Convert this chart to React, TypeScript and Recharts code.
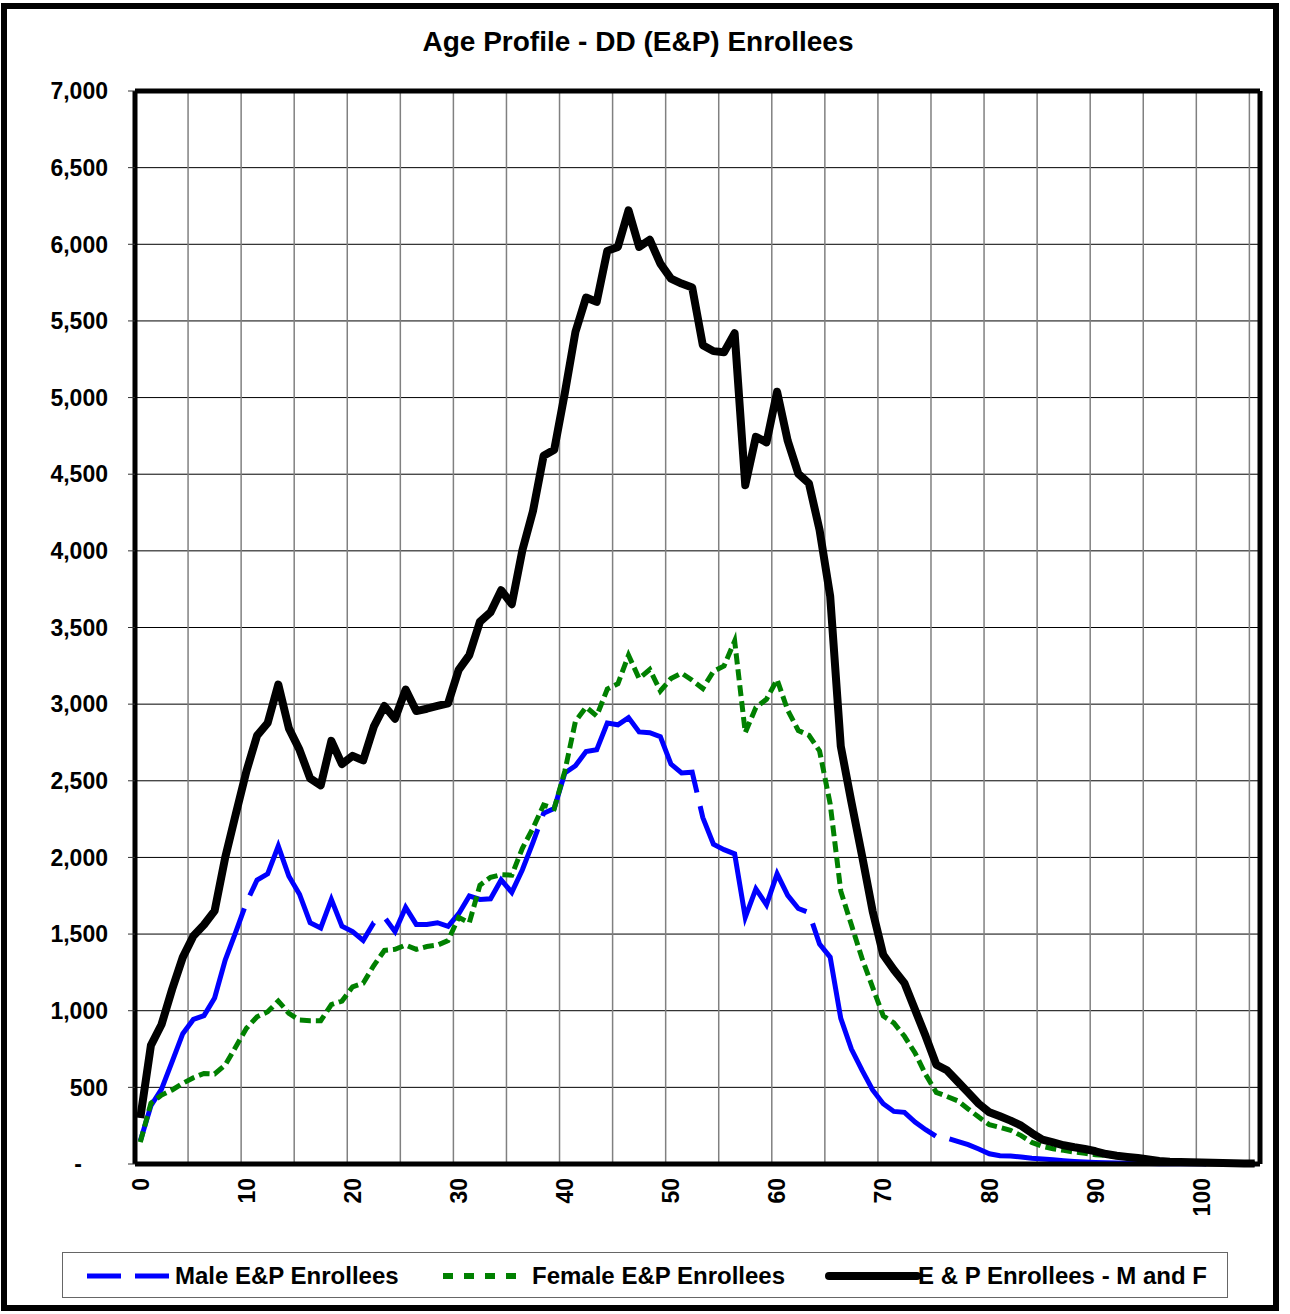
import React from "react";
import { CartesianGrid, Line, LineChart, ReferenceLine, XAxis, YAxis } from "recharts";

const FONT = '"Liberation Sans", Arial, sans-serif';

// enrollees by single year of age, 0..105
const male = [
  150, 380, 488, 668, 850, 943, 968, 1083, 1330, 1515,
  1705, 1853, 1893, 2074, 1877, 1760, 1574, 1540, 1726, 1551,
  1516, 1458, 1574, 1609, 1516, 1674, 1563, 1563, 1574, 1551,
  1633, 1749, 1726, 1730, 1853, 1772, 1920, 2098, 2288, 2319,
  2551, 2598, 2691, 2702, 2877, 2865, 2912, 2819, 2814, 2788,
  2609, 2551, 2556, 2260, 2086, 2051, 2023, 1609, 1795, 1691,
  1893, 1753, 1667, 1640, 1435, 1350, 950, 750, 612, 483,
  393, 343, 337, 274, 224, 180, 170, 148, 126, 98,
  67, 54, 52, 46, 37, 33, 28, 22, 17, 13,
  10, 8, 6, 5, 4, 3, 2, 2, 1, 1,
  1, 0, 0, 0, 0, 0,
];

const female = [
  143, 396, 450, 483, 526, 563, 591, 587, 646, 765,
  885, 961, 993, 1063, 983, 939, 935, 935, 1040, 1063,
  1156, 1179, 1295, 1393, 1400, 1428, 1400, 1419, 1428, 1458,
  1609, 1574, 1819, 1870, 1888, 1884, 2060, 2191, 2342, 2319,
  2563, 2888, 2981, 2923, 3098, 3133, 3319, 3167, 3226, 3086,
  3167, 3202, 3156, 3102, 3214, 3249, 3412, 2815, 2978, 3032,
  3160, 2960, 2828, 2797, 2695, 2350, 1780, 1560, 1342, 1152,
  966, 920, 833, 724, 583, 467, 441, 413, 359, 306,
  256, 239, 220, 185, 141, 115, 100, 89, 78, 70,
  61, 57, 48, 41, 35, 27, 18, 13, 11, 10,
  9, 6, 5, 4, 3, 3,
];

const total = [
  300, 774, 910, 1140, 1348, 1488, 1561, 1651, 2000, 2284,
  2563, 2795, 2877, 3128, 2842, 2702, 2516, 2470, 2760, 2609,
  2663, 2633, 2853, 2988, 2905, 3095, 2955, 2970, 2988, 3005,
  3224, 3320, 3538, 3600, 3743, 3652, 4004, 4260, 4620, 4660,
  5030, 5429, 5653, 5624, 5957, 5983, 6221, 5983, 6030, 5874,
  5776, 5744, 5718, 5342, 5303, 5296, 5420, 4428, 4744, 4708,
  5038, 4718, 4503, 4440, 4137, 3705, 2725, 2362, 2012, 1650,
  1365, 1267, 1180, 1006, 833, 648, 611, 539, 467, 393,
  337, 311, 283, 250, 202, 159, 141, 122, 109, 98,
  83, 65, 54, 46, 39, 30, 20, 15, 13, 11,
  10, 8, 6, 5, 4, 3,
];

const xTicks = [0, 10, 20, 30, 40, 50, 60, 70, 80, 90, 100];
const yTicks = [0, 500, 1000, 1500, 2000, 2500, 3000, 3500, 4000, 4500, 5000, 5500, 6000, 6500, 7000];
// vertical grid sits between categories, every 5 ages
const xGrid = [4.5, 9.5, 14.5, 19.5, 24.5, 29.5, 34.5, 39.5, 44.5, 49.5, 54.5, 59.5, 64.5, 69.5, 74.5, 79.5, 84.5, 89.5, 94.5, 99.5, 104.5];

const data = male.map((m, age) => ({ age, male: m, female: female[age], total: total[age] }));

function XTick({ x, y, payload }: any) {
  return (
    <text
      x={x}
      y={y}
      transform={`rotate(-90 ${x} ${y})`}
      textAnchor="end"
      dy="0.36em"
      fontSize={23}
      fontWeight="bold"
      fontFamily={FONT}
      fill="#000"
    >
      {payload.value}
    </text>
  );
}

function YTick({ x, y, payload }: any) {
  const v = payload.value as number;
  return (
    <text
      x={v === 0 ? x - 26 : x}
      y={y}
      textAnchor="end"
      dy="0.36em"
      fontSize={23}
      fontWeight="bold"
      fontFamily={FONT}
      fill="#000"
    >
      {v === 0 ? "-" : v.toLocaleString("en-US")}
    </text>
  );
}

const legendText: React.CSSProperties = {
  position: "absolute",
  top: 9,
  fontSize: 24,
  fontWeight: "bold",
  fontFamily: FONT,
  lineHeight: "27px",
  whiteSpace: "nowrap",
};

function ChartLegend() {
  return (
    <div
      style={{
        position: "absolute",
        left: 62,
        top: 1252,
        width: 1166,
        height: 46,
        border: "1px solid #666",
        boxSizing: "border-box",
        background: "#fff",
      }}
    >
      <svg style={{ position: "absolute", left: 0, top: 0 }} width={1166} height={46}>
        <line x1={24} x2={112} y1={23} y2={23} stroke="#0000ff" strokeWidth={5} strokeDasharray="34 14" />
        <line x1={380} x2={455} y1={23} y2={23} stroke="#008000" strokeWidth={6} strokeDasharray="10 11" />
        <line x1={766} x2={854} y1={23} y2={23} stroke="#000" strokeWidth={8} strokeLinecap="round" />
      </svg>
      <span style={{ ...legendText, left: 112 }}>Male E&amp;P Enrollees</span>
      <span style={{ ...legendText, left: 469 }}>Female E&amp;P Enrollees</span>
      <span style={{ ...legendText, left: 855 }}>E &amp; P Enrollees - M and F</span>
    </div>
  );
}

export default function App() {
  return (
    <div style={{ position: "absolute", left: 0, top: 0, width: 1290, height: 1314, background: "#fff" }}>
      <div
        style={{
          position: "absolute",
          left: 1,
          top: 3,
          width: 1278,
          height: 1308,
          border: "6px solid #000",
          boxSizing: "border-box",
        }}
      />
      <div
        style={{
          position: "absolute",
          left: 0,
          top: 26,
          width: 1276,
          textAlign: "center",
          fontSize: 28,
          fontWeight: "bold",
          fontFamily: FONT,
        }}
      >
        Age Profile - DD (E&amp;P) Enrollees
      </div>
      <LineChart
        width={1290}
        height={1314}
        data={data}
        margin={{ top: 91, right: 30, bottom: 0, left: 0 }}
        style={{ position: "absolute", left: 0, top: 0 }}
      >
        <CartesianGrid vertical={false} stroke="#000" strokeWidth={1} />
        {xGrid.map(g => (
          <ReferenceLine key={g} x={g} stroke="#808080" strokeWidth={1.5} zIndex={-50} />
        ))}
        <XAxis
          dataKey="age"
          type="number"
          domain={[-0.5, 105.5]}
          ticks={xTicks}
          interval={0}
          height={150}
          tickSize={0}
          tickMargin={14}
          tick={<XTick />}
          axisLine={{ stroke: "#000", strokeWidth: 5 }}
        />
        <YAxis
          domain={[0, 7000]}
          ticks={yTicks}
          interval={0}
          width={135}
          tickSize={7}
          tickMargin={20}
          tick={<YTick />}
          tickLine={{ stroke: "#333" }}
          axisLine={{ stroke: "#000", strokeWidth: 5 }}
        />
        <ReferenceLine y={7000} stroke="#000" strokeWidth={5} />
        <ReferenceLine x={105.5} stroke="#000" strokeWidth={5} />
        <Line
          dataKey="male"
          name="Male E&P Enrollees"
          stroke="#0000ff"
          strokeWidth={5}
          strokeDasharray="260 14"
          dot={false}
          isAnimationActive={false}
        />
        <Line
          dataKey="female"
          name="Female E&P Enrollees"
          stroke="#008000"
          strokeWidth={5}
          strokeDasharray="11 5"
          dot={false}
          isAnimationActive={false}
        />
        <Line
          dataKey="total"
          name="E & P Enrollees - M and F"
          stroke="#000"
          strokeWidth={8}
          strokeLinejoin="round"
          dot={false}
          isAnimationActive={false}
        />
      </LineChart>
      <ChartLegend />
    </div>
  );
}
